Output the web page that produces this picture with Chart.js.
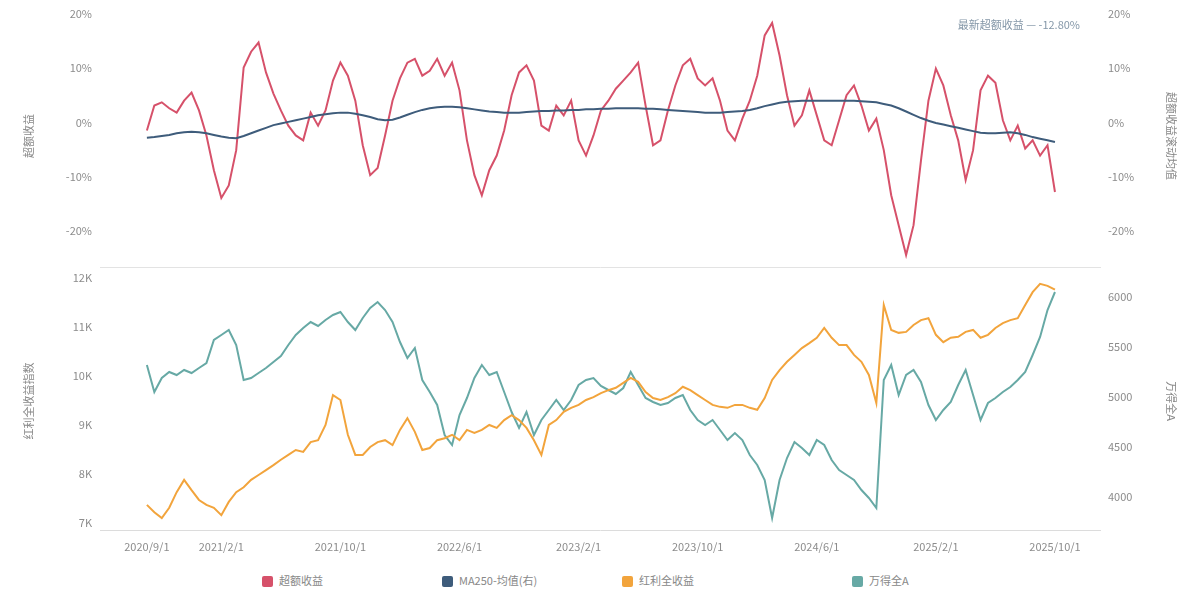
<!DOCTYPE html>
<html>
<head>
<meta charset="utf-8">
<script src="https://cdn.jsdelivr.net/npm/chart.js@4.4.1/dist/chart.umd.min.js"></script>
<style>
	html, body { margin: 0; padding: 0; background: #fff; }
	.wrap { position: relative; width: 1200px; height: 600px; font-family: "Noto Sans CJK SC", "Noto Sans", sans-serif; }
	.top { position: absolute; left: 0; top: 0; width: 1200px; height: 270px; }
	.bottom { position: absolute; left: 0; top: 270px; width: 1200px; height: 290px; }
	.legend { position: absolute; left: 0; top: 572px; width: 1200px; height: 18px; font-size: 11px; color: #888; }
	.legend span { position: absolute; top: 0; line-height: 16px; white-space: nowrap; }
	.legend i { display: inline-block; width: 11px; height: 11px; border-radius: 2px; vertical-align: -2px; margin-right: 6px; }
</style>
</head>
<body>
<div class="wrap">
	<div class="top"><canvas id="topChart"></canvas></div>
	<div class="bottom"><canvas id="bottomChart"></canvas></div>
	<div class="legend" id="legend"></div>
</div>
<script>
// semi-monthly dates 2020/9/1 .. 2025/10/1
const dates = [];
for (let y = 2020, m = 9; y < 2025 || m <= 10; ) {
	dates.push(y + "/" + m + "/1");
	if (y === 2025 && m === 10) break;
	dates.push(y + "/" + m + "/16");
	m++;
	if (m > 12) { m = 1; y++; }
}

const dateTicks = [0, 10, 26, 42, 58, 74, 90, 106, 122];
const pctTicks = [-20, -10, 0, 10, 20];
const leftTicks = [7000, 8000, 9000, 10000, 11000, 12000];
const rightTicks = [4000, 4500, 5000, 5500, 6000];

const seriesNames = ["超额收益", "MA250-均值(右)", "红利全收益", "万得全A"];
const noteText = "最新超额收益 — -12.80%";

// 超额收益 (%)
const excessReturn = [
	-1.5, 3.1, 3.7, 2.6, 1.8, 4.0, 5.5, 2.2, -2.4, -8.8,
	-13.9, -11.6, -5.1, 10.1, 13.0, 14.7, 9.2, 5.3, 2.2, -0.6,
	-2.4, -3.3, 1.8, -0.6, 2.2, 7.7, 11.0, 8.6, 4.0, -4.2,
	-9.7, -8.4, -2.4, 4.0, 8.1, 11.0, 11.7, 8.6, 9.5, 11.7,
	8.6, 11.0, 5.9, -3.3, -9.7, -13.4, -8.8, -6.1, -1.5, 5.0,
	9.2, 10.5, 7.7, -0.6, -1.5, 3.1, 1.3, 4.0, -3.3, -6.1,
	-2.4, 2.2, 4.0, 6.2, 7.7, 9.2, 11.0, 3.1, -4.2, -3.3,
	2.2, 6.8, 10.5, 11.7, 8.1, 6.8, 8.1, 4.0, -1.5, -3.3,
	0.7, 4.0, 8.6, 16.0, 18.3, 12.3, 5.0, -0.6, 1.3, 5.9,
	1.3, -3.3, -4.2, 0.4, 5.0, 6.8, 3.1, -1.5, 0.7, -5.1,
	-13.4, -18.9, -24.4, -18.9, -7.0, 4.0, 9.9, 6.8, 1.3, -3.3,
	-10.6, -5.1, 5.9, 8.6, 7.3, 0.4, -3.3, -0.6, -4.8, -3.3,
	-6.1, -4.2, -12.8
];

// 滚动均值 (%), right axis
const excessMean = [
	-2.8, -2.7, -2.5, -2.3, -2.0, -1.8, -1.7, -1.8, -2.0, -2.3,
	-2.6, -2.8, -2.9, -2.5, -2.0, -1.5, -1.0, -0.5, -0.2, 0.1,
	0.4, 0.7, 1.0, 1.3, 1.5, 1.7, 1.8, 1.8, 1.6, 1.3,
	1.0, 0.6, 0.4, 0.5, 0.9, 1.4, 1.9, 2.3, 2.6, 2.8,
	2.9, 2.9, 2.8, 2.6, 2.4, 2.2, 2.0, 1.9, 1.8, 1.8,
	1.8, 1.9, 2.0, 2.1, 2.1, 2.2, 2.2, 2.3, 2.3, 2.4,
	2.4, 2.5, 2.5, 2.6, 2.6, 2.6, 2.6, 2.5, 2.5, 2.4,
	2.3, 2.2, 2.1, 2.0, 1.9, 1.8, 1.8, 1.8, 1.9, 2.0,
	2.1, 2.3, 2.6, 3.0, 3.3, 3.6, 3.8, 3.9, 4.0, 4.0,
	4.0, 4.0, 4.0, 4.0, 4.0, 4.0, 3.9, 3.8, 3.7, 3.4,
	3.1, 2.6, 2.0, 1.4, 0.8, 0.3, -0.1, -0.4, -0.7, -1.0,
	-1.3, -1.6, -1.9, -2.0, -2.0, -1.9, -1.8, -2.0, -2.3, -2.7,
	-3.0, -3.3, -3.6
];

// 红利全收益 (left axis)
const dividendIndex = [
	7370, 7220, 7100, 7310, 7630, 7880, 7670, 7470, 7370, 7310,
	7160, 7430, 7630, 7730, 7880, 7980, 8080, 8180, 8290, 8390,
	8490, 8450, 8650, 8690, 9000, 9610, 9510, 8800, 8390, 8390,
	8550, 8650, 8690, 8590, 8900, 9140, 8860, 8490, 8530, 8690,
	8730, 8800, 8690, 8900, 8840, 8900, 9000, 8940, 9100, 9200,
	9100, 8940, 8690, 8390, 9000, 9100, 9270, 9350, 9410, 9510,
	9570, 9650, 9710, 9760, 9860, 9960, 9880, 9670, 9550, 9510,
	9570, 9650, 9780, 9710, 9610, 9510, 9410, 9370, 9350, 9410,
	9410, 9350, 9310, 9550, 9920, 10120, 10290, 10430, 10570, 10670,
	10780, 10980, 10780, 10630, 10630, 10430, 10290, 10020, 9450, 11450,
	10940, 10880, 10900, 11040, 11140, 11180, 10840, 10690, 10780, 10800,
	10900, 10940, 10780, 10840, 10980, 11080, 11140, 11180, 11450, 11710,
	11880, 11840, 11760
];

// 万得全A (right axis)
const windAll = [
	5320, 5050, 5190, 5250, 5220, 5270, 5240, 5290, 5340, 5570,
	5620, 5670, 5520, 5170, 5190, 5240, 5290, 5350, 5410, 5520,
	5620, 5690, 5750, 5710, 5770, 5820, 5850, 5750, 5670, 5790,
	5890, 5950, 5870, 5750, 5550, 5390, 5490, 5170, 5050, 4920,
	4620, 4520, 4820, 4990, 5190, 5320, 5220, 5250, 5050, 4850,
	4690, 4850, 4620, 4770, 4870, 4970, 4870, 4970, 5120, 5170,
	5190, 5110, 5070, 5030, 5090, 5250, 5120, 4990, 4950, 4920,
	4940, 4990, 5020, 4870, 4770, 4720, 4770, 4670, 4570, 4640,
	4570, 4420, 4320, 4170, 3790, 4170, 4390, 4550, 4490, 4420,
	4570, 4520, 4370, 4270, 4220, 4170, 4070, 3990, 3890, 5170,
	5320, 5020, 5220, 5270, 5150, 4920, 4770, 4870, 4950, 5120,
	5270, 5020, 4770, 4940, 4990, 5050, 5100, 5170, 5250, 5420,
	5600, 5870, 6050
];

const RED = "#d6516a";
const NAVY = "#3e5c7b";
const ORANGE = "#f2a43c";
const TEAL = "#67a9a5";
const TICK_COLOR = "#8c8c8c";

Chart.defaults.font.family = '"Noto Sans CJK SC", "Noto Sans", sans-serif';
Chart.defaults.font.size = 11;
Chart.defaults.color = TICK_COLOR;

const idx = dates.map((d, i) => i);
const xMin = -6.3;
const xMax = 128.05;
const noPad = (s) => { s.paddingTop = 0; s.paddingBottom = 0; s.paddingLeft = 0; s.paddingRight = 0; };
const fixWidth = (s) => { s.width = 100; noPad(s); };
const setTicks = (list) => (s) => { s.ticks = list.map((v) => ({ value: v })); };

const noteLabel = {
	id: "noteLabel",
	afterDraw(chart) {
		const { ctx, chartArea } = chart;
		ctx.save();
		ctx.font = '11px "Noto Sans CJK SC", sans-serif';
		ctx.fillStyle = "#8497a8";
		ctx.textAlign = "right";
		ctx.textBaseline = "middle";
		ctx.fillText(noteText, chartArea.right - 20, 25);
		ctx.restore();
	},
};

new Chart(document.getElementById("topChart"), {
	type: "line",
	data: {
		labels: idx,
		datasets: [
			{
				label: seriesNames[1],
				data: excessMean,
				yAxisID: "y1",
				borderColor: NAVY,
				borderWidth: 2,
				pointRadius: 0,
			},
			{
				label: seriesNames[0],
				data: excessReturn,
				yAxisID: "y",
				borderColor: RED,
				borderWidth: 2,
				pointRadius: 0,
			},
		],
	},
	plugins: [noteLabel],
	options: {
		animation: false,
		responsive: true,
		maintainAspectRatio: false,
		layout: { padding: { top: 5, bottom: 3, left: 0, right: 0 } },
		plugins: {
			legend: { display: false },
			tooltip: { enabled: false },
		},
		scales: {
			x: {
				type: "linear",
				min: xMin,
				max: xMax,
				afterFit: (s) => { s.height = 0; noPad(s); },
				ticks: { display: false },
				grid: { display: false, drawTicks: false },
				border: { color: "#e3e3e3" },
			},
			y: {
				position: "left",
				min: -26.6,
				max: 21.6,
				afterFit: fixWidth,
				afterBuildTicks: setTicks(pctTicks),
				ticks: { padding: 8, callback: (v) => v + "%" },
				grid: { display: false, drawTicks: false },
				border: { display: false },
				title: { display: true, text: "超额收益", color: "#888", padding: { top: 22, bottom: 0 } },
			},
			y1: {
				position: "right",
				min: -26.6,
				max: 21.6,
				afterFit: fixWidth,
				afterBuildTicks: setTicks(pctTicks),
				ticks: { padding: 8, callback: (v) => v + "%" },
				grid: { display: false, drawTicks: false },
				border: { display: false },
				title: { display: true, text: "超额收益滚动均值", color: "#888", padding: { top: 22, bottom: 0 } },
			},
		},
	},
});

new Chart(document.getElementById("bottomChart"), {
	type: "line",
	data: {
		labels: idx,
		datasets: [
			{
				label: seriesNames[2],
				data: dividendIndex,
				yAxisID: "y",
				borderColor: ORANGE,
				borderWidth: 2,
				pointRadius: 0,
			},
			{
				label: seriesNames[3],
				data: windAll,
				yAxisID: "y1",
				borderColor: TEAL,
				borderWidth: 2,
				pointRadius: 0,
			},
		],
	},
	options: {
		animation: false,
		responsive: true,
		maintainAspectRatio: false,
		layout: { padding: { top: 2, bottom: 0, left: 0, right: 0 } },
		plugins: {
			legend: { display: false },
			tooltip: { enabled: false },
		},
		scales: {
			x: {
				type: "linear",
				min: xMin,
				max: xMax,
				afterFit: (s) => { s.height = 30; noPad(s); },
				afterBuildTicks: setTicks(dateTicks),
				ticks: {
					padding: 10,
					maxRotation: 0,
					autoSkip: false,
					callback: (v) => dates[v],
				},
				grid: { display: false, drawTicks: false },
				border: { color: "#dcdcdc" },
			},
			y: {
				position: "left",
				min: 6857,
				max: 12122,
				afterFit: fixWidth,
				afterBuildTicks: setTicks(leftTicks),
				ticks: { padding: 8, callback: (v) => v / 1000 + "K" },
				grid: { display: false, drawTicks: false },
				border: { display: false },
				title: { display: true, text: "红利全收益指数", color: "#888", padding: { top: 22, bottom: 0 } },
			},
			y1: {
				position: "right",
				min: 3670,
				max: 6250,
				afterFit: fixWidth,
				afterBuildTicks: setTicks(rightTicks),
				ticks: { padding: 8, callback: (v) => String(v) },
				grid: { display: false, drawTicks: false },
				border: { display: false },
				title: { display: true, text: "万得全A", color: "#888", padding: { top: 22, bottom: 0 } },
			},
		},
	},
});

// legend
const legendColors = [RED, NAVY, ORANGE, TEAL];
const legendLeft = [262, 442, 622, 852];
const legendEl = document.getElementById("legend");
seriesNames.forEach((name, i) => {
	const item = document.createElement("span");
	item.style.left = legendLeft[i] + "px";
	item.innerHTML = '<i style="background:' + legendColors[i] + '"></i>' + name;
	legendEl.appendChild(item);
});
</script>
</body>
</html>
